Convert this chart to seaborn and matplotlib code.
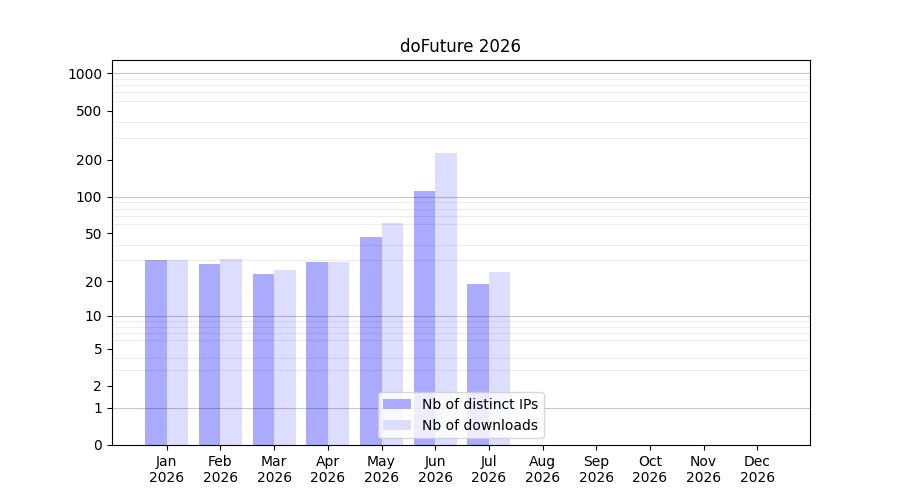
import numpy as np
import pandas as pd
import seaborn as sns
import matplotlib.pyplot as plt
from matplotlib.ticker import FixedLocator, NullFormatter

months = ["Jan", "Feb", "Mar", "Apr", "May", "Jun", "Jul", "Aug", "Sep", "Oct", "Nov", "Dec"]
year = "2026"
distinct_ips = [30, 28, 23, 29, 47, 111, 19, 0, 0, 0, 0, 0]
downloads = [30, 31, 25, 29, 61, 226, 24, 0, 0, 0, 0, 0]
ytick_vals = [0, 1, 2, 5, 10, 20, 50, 100, 200, 500, 1000]

labels = [m + "\n" + year for m in months]
df = pd.DataFrame({
    "month": labels * 2,
    "count": distinct_ips + downloads,
    "kind": ["Nb of distinct IPs"] * 12 + ["Nb of downloads"] * 12,
})

fig, ax = plt.subplots(figsize=(9, 5), dpi=100)
fig.subplots_adjust(left=0.1244, right=0.9, top=0.88, bottom=0.11)

# log(1 + x) axis so that zero still fits
ax.set_yscale("function", functions=(lambda x: np.log10(np.clip(x, 0, None) + 1),
                                     lambda y: 10 ** y - 1))

sns.barplot(ax=ax, data=df, x="month", y="count", hue="kind",
            palette=["#aaaaff", "#ddddff"], width=0.8, saturation=1)

ax.set_ylim(0, 1280)
ax.set_xlim(-1.02, 11.98)
ax.set_yticks(ytick_vals)
ax.set_yticklabels([str(v) for v in ytick_vals])
minor = [m * 10 ** k for k in range(0, 4) for m in range(2, 10)]
ax.yaxis.set_minor_locator(FixedLocator(minor))
ax.yaxis.set_minor_formatter(NullFormatter())
ax.tick_params(axis="y", which="minor", length=0)
ax.set_axisbelow(False)
ax.grid(axis="y", which="minor", color="black", alpha=0.07, linewidth=0.8)
for v in [1, 10, 100, 1000]:
    ax.axhline(v, color="black", alpha=0.22, linewidth=0.8, zorder=3)
for s in ax.spines.values():
    s.set_zorder(4)

ax.set_xlabel("")
ax.set_ylabel("")
ax.set_title("doFuture 2026")
ax.legend(loc="lower center", title=None)

plt.savefig("out.png")
